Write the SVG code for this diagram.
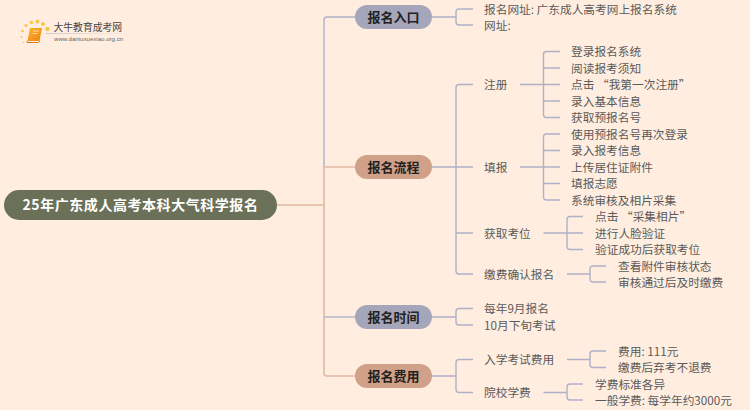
<svg xmlns="http://www.w3.org/2000/svg" width="750" height="410" viewBox="0 0 750 410">
<defs>
<style>
text{font-family:"Noto Sans CJK SC","Liberation Sans",sans-serif;dominant-baseline:central}
.leaf{font-size:11.7px;fill:#5a5a5a}
.branch{font-size:13px;font-weight:700;fill:#222;text-anchor:middle}
.c{fill:none;stroke:#b0b0c8;stroke-width:1.4}
.t{fill:none;stroke:#e3b9a2;stroke-width:1.6}
.blue{fill:#a6a6ba}
.tan{fill:#d0a088}
</style>
<linearGradient id="bk" x1="0" y1="0" x2="1" y2="1"><stop offset="0" stop-color="#fbb62c"/><stop offset="1" stop-color="#ee8012"/></linearGradient>
<linearGradient id="ln" x1="0" y1="0" x2="1" y2="0"><stop offset="0" stop-color="#ccc"/><stop offset="1" stop-color="#ccc" stop-opacity="0"/></linearGradient>
</defs>
<rect width="750" height="410" fill="#ffeee0"/>
<g id="logo">
<g fill="#f8c64a"><circle cx="21.500" cy="37" r="1"/><circle cx="22.500" cy="31" r="1.300"/><circle cx="26" cy="25.500" r="1.600"/><circle cx="31.500" cy="22.500" r="1.800"/><circle cx="37.500" cy="21.500" r="1.900"/><circle cx="43" cy="24" r="2"/><circle cx="47.500" cy="29" r="2.200"/><circle cx="23.500" cy="42.500" r="0.800"/></g>
<path d="M30 28h12l-2.500 13h-12z" fill="url(#bk)"/><path d="M27.500 41l-0.500 1.500h11.500l1.500-1.500" fill="none" stroke="#e67a10" stroke-width="1"/>
<path d="M33 31h6M32.500 33.500h5" stroke="#ffe2a8" stroke-width="0.900"/>
<text x="53.500" y="26.500" style="font-size:9.800px;fill:#444">大牛教育成考网</text>
<rect x="46" y="33" width="86" height="1" fill="url(#ln)"/>
<text x="54" y="38.500" style="font-size:6.100px;fill:#666;font-family:'Liberation Sans',sans-serif">www.daniuxuexiao.org.cn</text>
</g>
<g id="connectors">
<path class="t" d="M277 205H324"/>
<path class="c" d="M355 17H327Q324 17 324 20V167"/>
<path class="t" d="M355 167H324M324 167V373Q324 376 327 376H355"/>
<path class="c" d="M324 317H355"/>
<path class="c" d="M432 17H456M473 9H459Q456 9 456 12V22Q456 25 459 25H473"/>
<path class="c" d="M432 167H473M473 84.500H459Q456 84.500 456 87.500V271Q456 274 459 274H473M456 233H473"/>
<path class="c" d="M432 317H456M473 308.500H459Q456 308.500 456 311.500V322Q456 325 459 325H473"/>
<path class="c" d="M432 376H456M473 359.500H459Q456 359.500 456 362.500V389.500Q456 392.500 459 392.500H473"/>
<path class="c" d="M520 84.500H560M560 51.500H546.500Q543.500 51.500 543.500 54.500V114.500Q543.500 117.500 546.500 117.500H560M543.500 68H560M543.500 101H560"/>
<path class="c" d="M520 167H560M560 134H546.500Q543.500 134 543.500 137V197Q543.500 200 546.500 200H560M543.500 150.500H560M543.500 183.500H560"/>
<path class="c" d="M543.500 233H583M583 216.500H570Q567 216.500 567 219.500V246.500Q567 249.500 570 249.500H583"/>
<path class="c" d="M567 274H590M606 266H593Q590 266 590 269V279Q590 282 593 282H606"/>
<path class="c" d="M567 359.500H590M606 351H593Q590 351 590 354V364.500Q590 367.500 593 367.500H606"/>
<path class="c" d="M543.500 392.500H567M583 384H570Q567 384 567 387V397Q567 400 570 400H583"/>
</g>
<g id="root"><rect x="4" y="190" width="273" height="30" rx="15" fill="#6b7159"/><text x="140.500" y="204" text-anchor="middle" style="font-size:14px;font-weight:700;fill:#fff;letter-spacing:0.550px">25年广东成人高考本科大气科学报名</text></g>
<g id="n-entry"><rect class="blue" x="355" y="5" width="77" height="24" rx="12"/><text class="branch" x="393.500" y="16.500">报名入口</text></g>
<g id="n-process"><rect class="tan" x="355" y="155" width="77" height="24" rx="12"/><text class="branch" x="393.500" y="166.500">报名流程</text></g>
<g id="n-time"><rect class="blue" x="355" y="305" width="77" height="24" rx="12"/><text class="branch" x="393.500" y="316.500">报名时间</text></g>
<g id="n-fee"><rect class="tan" x="355" y="364" width="77" height="24" rx="12"/><text class="branch" x="393.500" y="375.500">报名费用</text></g>
<g id="leaves" transform="translate(0,-1)">
<text class="leaf" x="484" y="9">报名网址: 广东成人高考网上报名系统</text>
<text class="leaf" x="484" y="25">网址:</text>
<text class="leaf" x="484" y="84.500">注册</text>
<text class="leaf" x="484" y="167">填报</text>
<text class="leaf" x="484" y="233">获取考位</text>
<text class="leaf" x="484" y="274">缴费确认报名</text>
<text class="leaf" x="571" y="51.500">登录报名系统</text>
<text class="leaf" x="571" y="68">阅读报考须知</text>
<text class="leaf" x="571" y="84.500">点击 “我第一次注册”</text>
<text class="leaf" x="571" y="101">录入基本信息</text>
<text class="leaf" x="571" y="117.500">获取预报名号</text>
<text class="leaf" x="571" y="134">使用预报名号再次登录</text>
<text class="leaf" x="571" y="150.500">录入报考信息</text>
<text class="leaf" x="571" y="167">上传居住证附件</text>
<text class="leaf" x="571" y="183.500">填报志愿</text>
<text class="leaf" x="571" y="200">系统审核及相片采集</text>
<text class="leaf" x="595" y="216.500">点击 “采集相片”</text>
<text class="leaf" x="595" y="233">进行人脸验证</text>
<text class="leaf" x="595" y="249.500">验证成功后获取考位</text>
<text class="leaf" x="618" y="266">查看附件审核状态</text>
<text class="leaf" x="618" y="282.500">审核通过后及时缴费</text>
<text class="leaf" x="484" y="308.500">每年9月报名</text>
<text class="leaf" x="484" y="325">10月下旬考试</text>
<text class="leaf" x="484" y="359.500">入学考试费用</text>
<text class="leaf" x="484" y="392.500">院校学费</text>
<text class="leaf" x="618" y="351">费用: 111元</text>
<text class="leaf" x="618" y="367.500">缴费后弃考不退费</text>
<text class="leaf" x="595" y="384">学费标准各异</text>
<text class="leaf" x="595" y="400">一般学费: 每学年约3000元</text>
</g>
</svg>
